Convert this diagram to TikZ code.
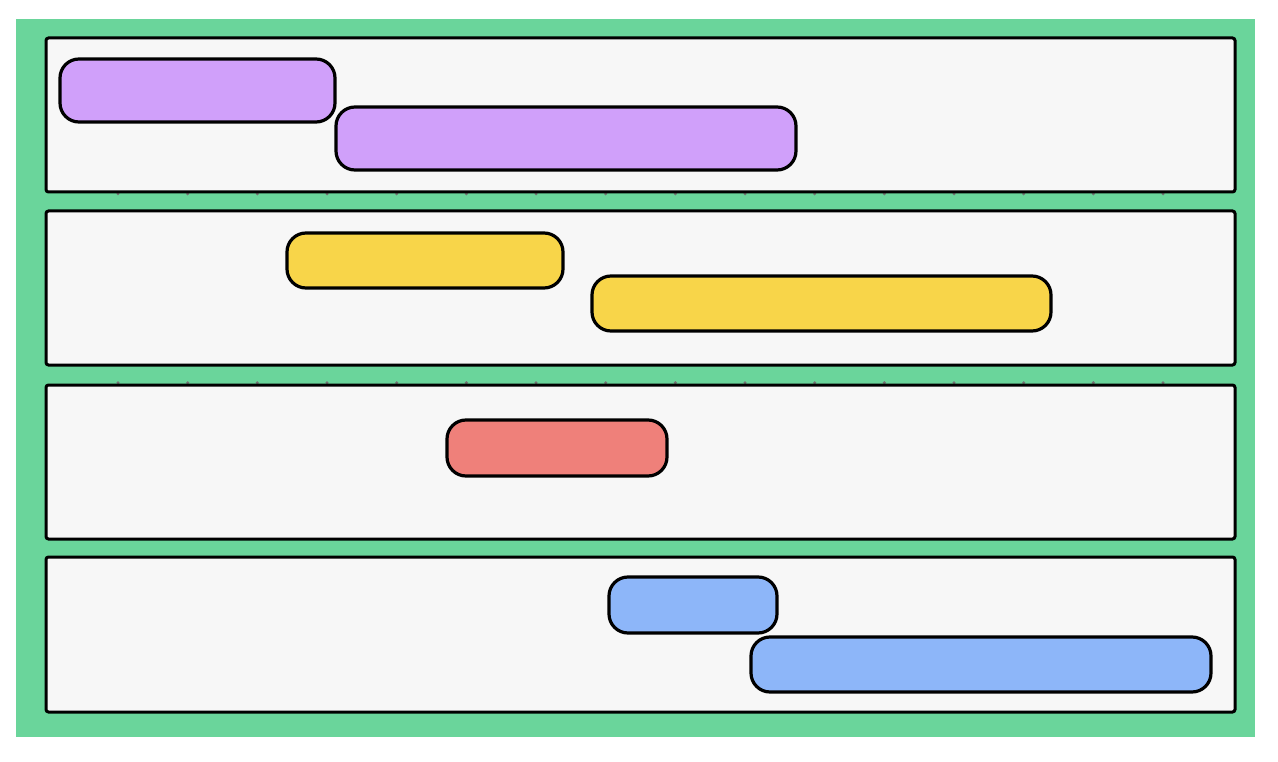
\documentclass[tikz,border=0pt]{standalone}
\definecolor{bggreen}{HTML}{6AD59B}
\definecolor{lanefill}{HTML}{F7F7F7}
\definecolor{cpurple}{HTML}{D0A0FA}
\definecolor{cyellow}{HTML}{F8D549}
\definecolor{cred}{HTML}{EF807A}
\definecolor{cblue}{HTML}{8DB6F9}
\begin{document}
\begin{tikzpicture}[x=1pt,y=-1pt,
  lane/.style={draw=black,fill=lanefill,line width=3pt,rounded corners=2.5pt},
  bar/.style={draw=black,line width=3.2pt,rounded corners=19pt},
  tickdot/.style={fill=black!55,draw=none}]
\useasboundingbox (0,0) rectangle (1278,762);
\fill[white] (0,0) rectangle (1278,762);
\fill[bggreen] (16,19) rectangle (1255,737);
% grid dots
\foreach \i in {0,...,15}{
  \fill[tickdot] ({118+69.67*\i},193.8) circle (1.7);
  \fill[tickdot] ({118+69.67*\i},382.8) circle (1.7);
}
% lanes
\draw[lane] (46,38) rectangle (1235,192);
\draw[lane] (46,211) rectangle (1235,365);
\draw[lane] (46,385) rectangle (1235,539);
\draw[lane] (46,557) rectangle (1235,712);
% bars
\draw[bar,fill=cpurple] (60,59) rectangle (335,122);
\draw[bar,fill=cpurple] (336,107) rectangle (796,170);
\draw[bar,fill=cyellow] (287,233) rectangle (563,288);
\draw[bar,fill=cyellow] (592,276) rectangle (1051,331);
\draw[bar,fill=cred] (447,420) rectangle (667,476);
\draw[bar,fill=cblue] (609,577) rectangle (777,633);
\draw[bar,fill=cblue] (751,637) rectangle (1211,692);
\end{tikzpicture}
\end{document}
